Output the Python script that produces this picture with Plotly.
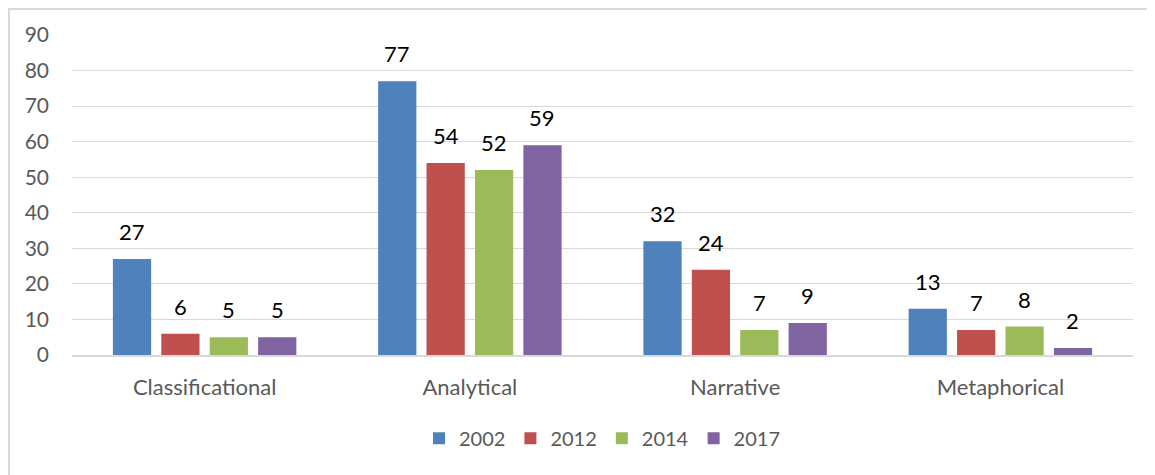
import plotly.graph_objects as go

categories = ["Classificational", "Analytical", "Narrative", "Metaphorical"]
series_names = ["2002", "2012", "2014", "2017"]
v2002 = [27, 77, 32, 13]
v2012 = [6, 54, 24, 7]
v2014 = [5, 52, 7, 8]
v2017 = [5, 59, 9, 2]
colors = ["#4F81BD", "#C0504D", "#9BBB59", "#8064A2"]

FONT = "Lato, Carlito, Liberation Sans, sans-serif"
W, H = 1155, 475
# the page body adds an 8px offset, so margins are compensated
ML, MR, MT, MB = 64, 30, 27, 128
BARGAP, GROUPGAP = 0.27, 0.21

fig = go.Figure()
all_vals = [v2002, v2012, v2014, v2017]
for name, vals, c in zip(series_names, all_vals, colors):
    fig.add_trace(go.Bar(
        x=categories, y=vals, name=name,
        marker=dict(color=c, line=dict(width=0)),
        cliponaxis=False,
    ))

plot_w = W - ML - MR
plot_h = H - MT - MB
cat_w = plot_w / len(categories)
slot = cat_w * (1 - BARGAP) / len(series_names)
annotations = []
for i, vals in enumerate(all_vals):
    xs = (i - (len(series_names) - 1) / 2) * slot
    for cat, v in zip(categories, vals):
        annotations.append(dict(
            x=cat, y=v, xref="x", yref="y", text=str(v), showarrow=False,
            xanchor="center", yanchor="bottom", xshift=xs, yshift=12,
            font=dict(size=22, color="#000000", family=FONT),
        ))

fig.update_layout(
    width=W, height=H,
    margin=dict(l=ML, r=MR, t=MT, b=MB, autoexpand=False),
    paper_bgcolor="white", plot_bgcolor="white",
    barmode="group", bargap=BARGAP, bargroupgap=GROUPGAP,
    font=dict(family=FONT, size=21, color="#595959"),
    legend=dict(orientation="h", x=0.5, xanchor="center", y=-0.26, yanchor="middle",
                font=dict(size=20, color="#595959"), itemwidth=30,
                tracegroupgap=0),
    xaxis=dict(showgrid=False, showline=True, linecolor="#D9D9D9", linewidth=2,
               ticks="", ticklabelstandoff=12, tickfont=dict(size=22, color="#595959")),
    yaxis=dict(range=[0, 90], dtick=10, showgrid=True, gridcolor="#D9D9D9", gridwidth=1,
               zeroline=False, showline=False, ticks="", ticklabelstandoff=22,
               tickfont=dict(size=21, color="#595959")),
    annotations=annotations,
    shapes=[dict(type="rect", xref="paper", yref="paper",
                 x0=(1 - ML) / plot_w, x1=1.2, y0=-0.6, y1=(plot_h + MT - 1) / plot_h,
                 line=dict(color="#D9D9D9", width=2), fillcolor="rgba(0,0,0,0)", layer="below")],
)

fig.write_html("out.html")
